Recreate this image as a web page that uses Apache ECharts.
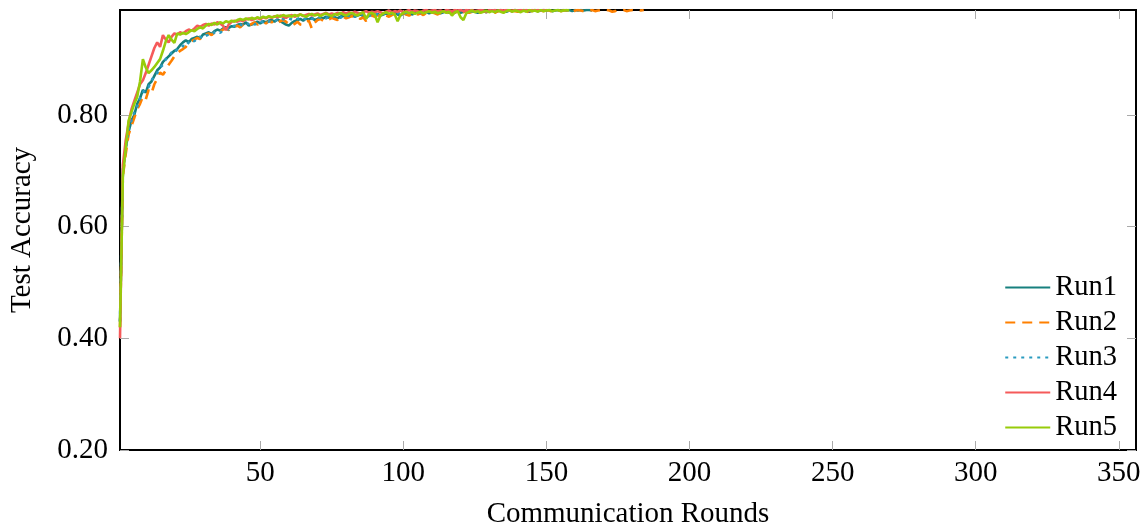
<!DOCTYPE html>
<html>
<head>
<meta charset="utf-8">
<script src="https://cdn.jsdelivr.net/npm/echarts@6/dist/echarts.min.js"></script>
<style>
html,body{margin:0;padding:0;background:#fff;}
#chart{width:1148px;height:524px;}
</style>
</head>
<body>
<div id="chart"></div>
<script>
const seriesNames = ['Run1', 'Run2', 'Run3', 'Run4', 'Run5'];
const xTicks = [50, 100, 150, 200, 250, 300, 350];
const yTicks = [0.2, 0.4, 0.6, 0.8];

// Test accuracy per communication round (round 1, 2, 3, ...)
const run1 = [
0.43,0.70,0.74,0.77,0.79,0.80,0.82,0.83,0.845,0.84,
0.855,0.86,0.87,0.88,0.885,0.895,0.90,0.905,0.91,0.915,
0.918,0.925,0.93,0.934,0.93,0.936,0.938,0.94,0.937,0.944,
0.946,0.948,0.945,0.95,0.953,0.951,0.955,0.957,0.956,0.959,
0.958,0.961,0.963,0.962,0.966,0.96,0.962,0.965,0.967,0.964,
0.968,0.966,0.969,0.97,0.967,0.971,0.968,0.965,0.962,0.96,
0.965,0.968,0.97,0.972,0.969,0.973,0.971,0.974,0.97,0.972,
0.975,0.973,0.976,0.974,0.977,0.975,0.973,0.976,0.978,0.975,
0.977,0.979,0.976,0.978,0.98,0.977,0.974,0.978,0.98,0.979,
0.981,0.978,0.98,0.982,0.979,0.981,0.983,0.98,0.978,0.982,
0.981,0.983,0.98,0.982,0.984,0.981,0.983,0.985,0.982,0.984,
0.983,0.985,0.982,0.984,0.986,0.983,0.985,0.984,0.986,0.983,
0.985,0.987,0.984,0.986,0.985,0.983,0.986,0.987,0.985,0.986,
0.987,0.985,0.986,0.988,0.986,0.985,0.987,0.986,0.988,0.987,
0.986,0.988,0.987,0.985,0.987,0.988,0.986,0.987,0.988,0.987,
0.988,0.986,0.987,0.988,0.987,0.988,0.987,0.988,0.986,0.988,
0.987,0.988,0.987,0.988,0.988,0.987
];
const run2 = [
0.42,0.69,0.73,0.765,0.78,0.795,0.81,0.82,0.833,0.828,
0.845,0.839,0.855,0.865,0.876,0.872,0.88,0.89,0.897,0.905,
0.91,0.915,0.918,0.922,0.928,0.932,0.935,0.938,0.936,0.942,
0.944,0.946,0.943,0.948,0.951,0.95,0.953,0.955,0.952,0.957,
0.958,0.96,0.957,0.962,0.964,0.961,0.963,0.966,0.962,0.965,
0.967,0.964,0.968,0.966,0.969,0.965,0.968,0.97,0.967,0.963,
0.96,0.963,0.967,0.962,0.961,0.966,0.969,0.955,0.965,0.97,
0.972,0.969,0.973,0.971,0.974,0.972,0.97,0.974,0.976,0.973,
0.975,0.977,0.974,0.976,0.972,0.975,0.968,0.976,0.978,0.976,
0.979,0.977,0.98,0.978,0.976,0.979,0.981,0.978,0.98,0.982,
0.98,0.978,0.981,0.983,0.98,0.982,0.979,0.983,0.981,0.984,
0.982,0.98,0.983,0.985,0.982,0.984,0.981,0.983,0.985,0.983,
0.984,0.986,0.983,0.985,0.984,0.982,0.985,0.986,0.984,0.986,
0.985,0.983,0.986,0.987,0.985,0.986,0.984,0.987,0.986,0.985,
0.987,0.986,0.984,0.987,0.986,0.988,0.985,0.987,0.986,0.988,
0.987,0.985,0.987,0.988,0.986,0.987,0.988,0.986,0.983,0.987,
0.988,0.987,0.986,0.988,0.987,0.988,0.986,0.987,0.988,0.987,
0.988,0.987,0.985,0.986,0.988,0.987,0.988,0.986,0.987,0.988,
0.987,0.988,0.987,0.988
];
const run3 = [
0.43,0.70,0.74,0.775,0.79,0.805,0.815,0.83,0.84,0.848,
0.85,0.862,0.87,0.875,0.885,0.89,0.9,0.905,0.912,0.91,
0.918,0.92,0.924,0.922,0.93,0.935,0.932,0.938,0.94,0.937,
0.942,0.944,0.943,0.948,0.95,0.947,0.952,0.955,0.953,0.957,
0.96,0.958,0.962,0.96,0.964,0.963,0.966,0.962,0.965,0.968,
0.966,0.969,0.967,0.97,0.968,0.971,0.969,0.972,0.97,0.973,
0.971,0.969,0.972,0.974,0.971,0.973,0.975,0.972,0.974,0.976,
0.974,0.976,0.973,0.977,0.975,0.978,0.976,0.974,0.977,0.979,
0.977,0.979,0.976,0.98,0.978,0.981,0.979,0.977,0.98,0.982,
0.98,0.978,0.981,0.983,0.98,0.982,0.979,0.982,0.984,0.981,
0.983,0.981,0.984,0.982,0.985,0.983,0.981,0.984,0.986,0.983,
0.985,0.983,0.986,0.984,0.982,0.985,0.987,0.984,0.986,0.985,
0.987,0.985,0.984,0.986,0.988,0.985,0.987,0.986,0.984,0.987,
0.986,0.988,0.986,0.987,0.985,0.988,0.987,0.986,0.988,0.987
];
const run4 = [
0.40,0.71,0.755,0.785,0.81,0.825,0.84,0.855,0.862,0.875,
0.89,0.905,0.92,0.93,0.922,0.943,0.935,0.93,0.94,0.946,
0.944,0.948,0.946,0.95,0.953,0.951,0.955,0.96,0.958,0.961,
0.963,0.96,0.964,0.962,0.966,0.964,0.96,0.952,0.962,0.967,
0.969,0.967,0.97,0.968,0.971,0.973,0.97,0.972,0.974,0.971,
0.975,0.973,0.976,0.974,0.977,0.975,0.978,0.976,0.974,0.977,
0.979,0.976,0.978,0.98,0.977,0.979,0.981,0.978,0.98,0.982,
0.979,0.981,0.983,0.98,0.982,0.98,0.983,0.981,0.984,0.982,
0.984,0.982,0.985,0.983,0.981,0.984,0.986,0.983,0.985,0.984,
0.986,0.984,0.982,0.985,0.987,0.984,0.986,0.985,0.987,0.984,
0.986,0.988,0.985,0.987,0.986,0.984,0.987,0.988,0.986,0.987,
0.988,0.986,0.987,0.985,0.988,0.987,0.986,0.988,0.987,0.988,
0.986,0.988,0.987,0.988,0.986,0.987,0.988,0.987,0.985,0.988,
0.987,0.988,0.986,0.988,0.987,0.988,0.987,0.986,0.988,0.987,
0.988,0.987,0.988,0.986,0.988,0.987,0.988,0.987,0.988,0.987
];
const run5 = [
0.42,0.69,0.74,0.79,0.805,0.82,0.832,0.86,0.90,0.885,
0.875,0.88,0.886,0.893,0.9,0.915,0.932,0.943,0.935,0.929,
0.946,0.944,0.947,0.945,0.948,0.952,0.95,0.954,0.957,0.955,
0.96,0.963,0.961,0.965,0.962,0.966,0.964,0.968,0.966,0.969,
0.967,0.97,0.972,0.97,0.973,0.971,0.974,0.972,0.975,0.973,
0.976,0.974,0.977,0.975,0.976,0.978,0.976,0.979,0.977,0.978,
0.976,0.979,0.977,0.98,0.978,0.976,0.979,0.981,0.978,0.98,
0.977,0.98,0.982,0.979,0.977,0.981,0.979,0.983,0.98,0.978,
0.981,0.983,0.98,0.978,0.982,0.984,0.972,0.981,0.983,0.98,
0.966,0.978,0.982,0.984,0.981,0.983,0.98,0.968,0.979,0.983,
0.985,0.982,0.984,0.981,0.983,0.985,0.982,0.984,0.986,0.983,
0.985,0.982,0.984,0.986,0.983,0.985,0.978,0.984,0.986,0.975,
0.97,0.982,0.985,0.987,0.984,0.986,0.983,0.985,0.987,0.984,
0.986,0.984,0.987,0.985,0.983,0.986,0.988,0.985,0.987,0.986,
0.984,0.987,0.985,0.988,0.986,0.987,0.985,0.988,0.986,0.987,
0.988,0.986,0.987,0.988,0.986,0.987,0.988,0.987
];

const runs = [run1, run2, run3, run4, run5];
const colors = ['#17807e', '#ff8000', '#2a9bbf', '#f55a5a', '#97cc0a'];
const types = ['solid', [10, 7], [3, 5], 'solid', 'solid'];

const FONT = 'Liberation Serif';
const FS = 29;
const chart = echarts.init(document.getElementById('chart'), null, {renderer: 'canvas'});

const tickStyle = {show: true, inside: true, length: 9, lineStyle: {color: '#aaaaaa', width: 1}};

chart.setOption({
  animation: false,
  backgroundColor: '#fff',
  grid: {left: 120, right: 12, top: 10, bottom: 74, outerBoundsMode: 'none', containLabel: false,
    show: true, borderColor: '#000', borderWidth: 2, backgroundColor: 'transparent'},
  legend: {
    orient: 'vertical', right: 31, bottom: 82, padding: 0,
    itemWidth: 45, itemHeight: 14, itemGap: 6,
    itemStyle: {opacity: 0},
    textStyle: {fontFamily: FONT, fontSize: 28.5, color: '#000'},
    data: seriesNames
  },
  xAxis: [{
    type: 'value', min: 1, max: 356,
    name: 'Communication Rounds', nameLocation: 'middle', nameGap: 50,
    nameTextStyle: {fontFamily: FONT, fontSize: FS, color: '#000'},
    axisLine: {show: false},
    axisTick: Object.assign({customValues: xTicks}, tickStyle),
    axisLabel: {customValues: xTicks, fontFamily: FONT, fontSize: FS, color: '#000', margin: 9},
    splitLine: {show: false}
  }, {
    type: 'value', min: 1, max: 356, position: 'top',
    axisLine: {show: false},
    axisTick: Object.assign({customValues: xTicks}, tickStyle),
    axisLabel: {show: false},
    splitLine: {show: false}
  }],
  yAxis: [{
    type: 'value', min: 0.2, max: 0.988,
    name: 'Test Accuracy', nameLocation: 'middle', nameGap: 83,
    nameTextStyle: {fontFamily: FONT, fontSize: FS, color: '#000'},
    axisLine: {show: false},
    axisTick: Object.assign({customValues: yTicks}, tickStyle),
    axisLabel: {customValues: yTicks, fontFamily: FONT, fontSize: FS, color: '#000', margin: 12,
      formatter: v => v.toFixed(2)},
    splitLine: {show: false}
  }, {
    type: 'value', min: 0.2, max: 0.988, position: 'right',
    axisLine: {show: false},
    axisTick: Object.assign({customValues: yTicks}, tickStyle),
    axisLabel: {show: false},
    splitLine: {show: false}
  }],
  series: runs.map((r, i) => ({
    name: seriesNames[i],
    type: 'line',
    data: r.map((v, k) => [k + 1, v]),
    symbol: 'none',
    clip: true,
    lineStyle: {color: colors[i], width: 2.6, type: types[i]},
    itemStyle: {color: colors[i]}
  }))
});
</script>
</body>
</html>
